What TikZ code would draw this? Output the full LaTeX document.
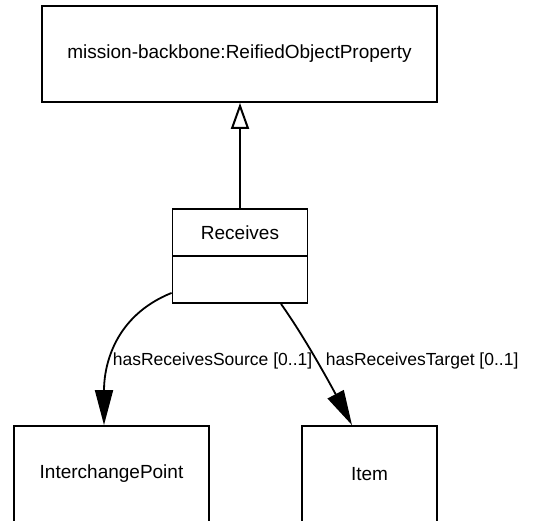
\documentclass[tikz,border=0pt]{standalone}
\usepackage{fontspec}
\setmainfont{Liberation Sans}
\usetikzlibrary{arrows.meta}

\begin{document}
\begin{tikzpicture}[x=1pt,y=-1pt,
    cls/.style={draw,line width=1.8pt,minimum height=96pt,inner sep=0pt,font=\fontsize{19}{22}\selectfont},
    part/.style={draw,line width=1.8pt,minimum width=135pt,minimum height=47pt,inner sep=0pt,font=\fontsize{19}{22}\selectfont},
    isa/.style={line width=2pt,-{Triangle[open,length=26pt,width=18pt,fill=white]}},
    rel/.style={line width=1.8pt,-{Triangle[length=35pt,width=18pt]}},
    lbl/.style={font=\fontsize{17.5}{20}\selectfont,inner sep=1pt}]
        \useasboundingbox (0,0) rectangle (553,520);
        \node[cls,minimum width=395pt] (super) at (239.5,54) {mission-backbone:ReifiedObjectProperty};
        \node[part] (recv) at (240,232.5) {Receives};
        \node[part] (recvattr) at (240,279.5) {};
        \node[cls,minimum width=195pt] (ip) at (111.5,474) {InterchangePoint};
        \node[cls,minimum width=135pt] (item) at (369.5,474) {Item};
        \draw[isa] (recv.north) -- (recv.north |- super.south);
        \draw[rel] ([yshift=11pt]recvattr.south west) .. controls +(-57,23) and +(0,-60) .. ([xshift=-7.5pt]ip.north)
          node[lbl,pos=0.61,anchor=west] {hasReceivesSource [0..1]};
        \draw[rel] ([xshift=41pt]recvattr.south) .. controls +(25,35) and +(-18,-34) .. ([xshift=-17.5pt]item.north)
          node[lbl,pos=0.47,anchor=west,xshift=7pt] {hasReceivesTarget [0..1]};
      \end{tikzpicture}
\end{document}
